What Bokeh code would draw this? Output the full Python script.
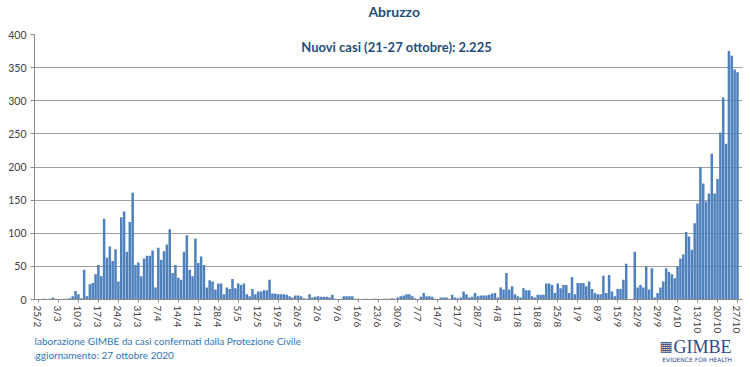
from bokeh.plotting import figure
from bokeh.layouts import column
from bokeh.models import FixedTicker, Label, Range1d
from bokeh.embed import file_html
from bokeh.resources import INLINE

# Daily new COVID-19 cases in Abruzzo, 25 Feb - 27 Oct 2020
feb = [0, 0, 1, 0, 1]
mar = [3, 1, 0, 0, 1, 1, 2, 5, 13, 8, 2, 45, 5, 23, 25, 38, 52, 35, 122, 63, 80,
       58, 76, 27, 124, 133, 72, 117, 161, 52, 56]
apr = [35, 62, 66, 66, 74, 18, 78, 60, 73, 83, 106, 40, 52, 33, 30, 72, 97, 45,
       35, 92, 55, 65, 52, 18, 29, 27, 15, 24, 24, 8]
may = [18, 16, 31, 17, 24, 22, 24, 8, 5, 16, 8, 12, 12, 14, 14, 30, 9, 9, 8, 8,
       8, 7, 5, 3, 6, 6, 5, 2, 1, 8, 3]
jun = [4, 5, 4, 4, 4, 3, 7, 1, 0, 1, 5, 5, 5, 5, 1, 1, 0, 1, 1, 0, 1, 1, 1, 0,
       1, 1, 1, 2, 1, 3]
jul = [5, 6, 8, 8, 5, 2, 0, 4, 10, 5, 5, 4, 1, 0, 3, 3, 3, 1, 7, 3, 2, 3, 12, 8,
       3, 4, 10, 5, 6, 6, 6]
aug = [7, 9, 10, 3, 18, 15, 40, 15, 20, 8, 5, 3, 17, 14, 14, 5, 3, 7, 7, 7, 24,
       24, 22, 10, 24, 17, 22, 22, 10, 34, 8]
sep = [25, 25, 25, 20, 27, 16, 10, 8, 8, 36, 10, 37, 12, 5, 16, 16, 30, 54, 0,
       0, 72, 18, 22, 18, 50, 15, 47, 3, 10, 18]
oct_ = [27, 47, 42, 38, 32, 50, 62, 68, 102, 95, 75, 115, 145, 200, 175, 148,
        160, 220, 160, 182, 252, 305, 235, 375, 368, 347, 343]

new_cases = feb + mar + apr + may + jun + jul + aug + sep + oct_
day_index = list(range(len(new_cases)))

tick_labels = ["25/2", "3/3", "10/3", "17/3", "24/3", "31/3", "7/4", "14/4",
               "21/4", "28/4", "5/5", "12/5", "19/5", "26/5", "2/6", "9/6",
               "16/6", "23/6", "30/6", "7/7", "14/7", "21/7", "28/7", "4/8",
               "11/8", "18/8", "25/8", "1/9", "8/9", "15/9", "22/9", "29/9",
               "6/10", "13/10", "20/10", "27/10"]
tick_days = [7 * i for i in range(len(tick_labels))]
y_ticks = [0, 50, 100, 150, 200, 250, 300, 350, 400]

title_text = "Abruzzo"
note_text = "Nuovi casi (21-27 ottobre): 2.225"
source_1 = "Elaborazione GIMBE da casi confermati dalla Protezione Civile"
source_2 = "Aggiornamento: 27 ottobre 2020"

W = 750
TOP_H, MAIN_H, BOT_H = 26, 310, 31
X0, PXD = -1.4, 2.853
FRAME_L, FRAME_R = 34, 742
font = "Lato"
dark_blue = "#1F4E79"
src_blue = "#2E75B6"
logo_blue = "#2B4C8C"


def text_panel(h):
    f = figure(width=W, height=h, output_backend="svg", toolbar_location=None,
               x_range=Range1d(0, W), y_range=Range1d(h, 0),
               x_axis_type=None, y_axis_type=None, min_border=0)
    f.outline_line_color = None
    f.background_fill_color = "white"
    f.border_fill_color = "white"
    return f


# --- title strip
t = text_panel(TOP_H)
t.add_layout(Label(x=381, y=11, text=title_text, text_font=font,
                   text_font_size="14px", text_font_style="bold",
                   text_color=dark_blue, text_align="center",
                   text_baseline="middle"))

# --- main chart
p = figure(width=W, height=MAIN_H, output_backend="svg", toolbar_location=None,
           x_range=Range1d(X0, X0 + (FRAME_R - FRAME_L) / PXD),
           y_range=Range1d(0, 400),
           min_border_left=FRAME_L, min_border_right=W - FRAME_R,
           min_border_top=34 - TOP_H, min_border_bottom=34)
p.outline_line_color = None
p.background_fill_color = "white"
p.border_fill_color = "white"

p.vbar(x=day_index, top=new_cases, width=0.88, fill_color="#4F81BD",
       line_color=None)

p.xgrid.visible = False
p.ygrid.ticker = FixedTicker(ticks=y_ticks)
p.ygrid.grid_line_color = "#A0A0A0"
p.ygrid.grid_line_width = 1

p.yaxis.ticker = FixedTicker(ticks=y_ticks)
p.yaxis.major_label_text_font = font
p.yaxis.major_label_text_font_size = "10.5px"
p.yaxis.major_label_text_color = "#404040"
p.yaxis.major_tick_out = 4
p.yaxis.major_tick_in = 0
p.yaxis.minor_tick_line_color = None
p.yaxis.axis_line_color = "#8C8C8C"
p.yaxis.major_tick_line_color = "#8C8C8C"
p.yaxis.major_label_standoff = 4

p.xaxis.ticker = FixedTicker(ticks=tick_days)
p.xaxis.major_label_overrides = {d: s for d, s in zip(tick_days, tick_labels)}
p.xaxis.major_label_orientation = "vertical"
p.xaxis.major_label_text_font = font
p.xaxis.major_label_text_font_size = "10px"
p.xaxis.major_label_text_color = "#404040"
p.xaxis.major_tick_out = 3
p.xaxis.major_tick_in = 0
p.xaxis.minor_tick_line_color = None
p.xaxis.axis_line_color = "#8C8C8C"
p.xaxis.major_tick_line_color = "#8C8C8C"
p.xaxis.major_label_standoff = 3

p.add_layout(Label(x=X0 + (396 - FRAME_L) / PXD, y=(302 - 47) * 400 / 268,
                   text=note_text, text_font=font,
                   text_font_size="13px", text_font_style="bold",
                   text_color=dark_blue, text_align="center",
                   text_baseline="middle"))

# --- source / logo strip
q = text_panel(BOT_H)
q.add_layout(Label(x=-6, y=4, text=source_1, text_font=font,
                   text_font_size="10px", text_color=src_blue,
                   text_align="left", text_baseline="middle"))
q.add_layout(Label(x=-6, y=18, text=source_2, text_font=font,
                   text_font_size="10px", text_color=src_blue,
                   text_align="left", text_baseline="middle"))
q.add_layout(Label(x=669, y=9, text="▦", text_font="DejaVu Sans",
                   text_font_size="14px", text_color=logo_blue,
                   text_align="center", text_baseline="middle"))
q.add_layout(Label(x=677, y=10, text="GIMBE",
                   text_font="Liberation Serif", text_font_size="18px",
                   text_color=logo_blue, text_align="left",
                   text_baseline="middle"))
q.add_layout(Label(x=702, y=23, text="EVIDENCE FOR HEALTH",
                   text_font="DejaVu Sans", text_font_size="6px",
                   text_color=logo_blue, text_align="center",
                   text_baseline="middle"))

layout = column(t, p, q, spacing=0)
open("out.html", "w").write(file_html(layout, INLINE))
